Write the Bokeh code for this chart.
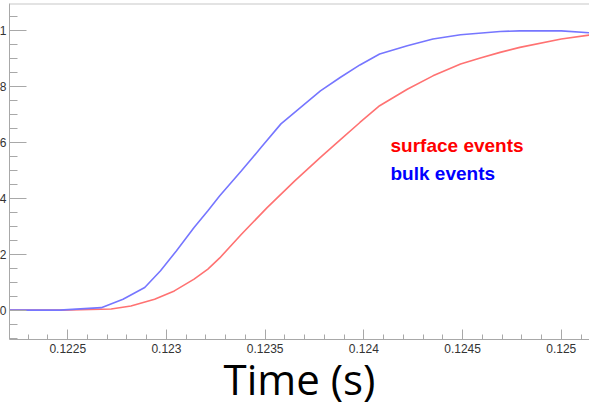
from bokeh.plotting import figure
from bokeh.models import (Range1d, SingleIntervalTicker, CustomJSTickFormatter,
                          Label, Span)
from bokeh.embed import file_html
from bokeh.resources import INLINE

# ---- data ----
time_bulk = [0.12220, 0.12246, 0.12267, 0.12278, 0.12289, 0.12297, 0.12305,
             0.12314, 0.12321, 0.12327, 0.12338, 0.12348, 0.12358, 0.12368,
             0.12378, 0.12388, 0.12398, 0.12408, 0.12422, 0.12435, 0.12449,
             0.12469, 0.12479, 0.12500, 0.125143]
bulk = [0.0, 0.0, 0.009, 0.039, 0.081, 0.141, 0.212, 0.296, 0.356, 0.410,
        0.499, 0.583, 0.667, 0.726, 0.785, 0.833, 0.878, 0.917, 0.947, 0.971,
        0.986, 0.998, 1.0, 1.0, 0.993]

time_surface = [0.12220, 0.12246, 0.12272, 0.12282, 0.12294, 0.12304, 0.12314,
                0.12321, 0.12327, 0.12338, 0.12351, 0.12365, 0.12378, 0.12388,
                0.12398, 0.12408, 0.12422, 0.12435, 0.12449, 0.12459, 0.12469,
                0.12479, 0.12500, 0.125143]
surface = [0.0, 0.0, 0.004, 0.015, 0.039, 0.069, 0.111, 0.147, 0.187, 0.272,
           0.367, 0.463, 0.547, 0.610, 0.672, 0.732, 0.791, 0.839, 0.881,
           0.903, 0.923, 0.941, 0.971, 0.985]

legend_labels = ["surface events", "bulk events"]
x_title = "Time (s)"

p = figure(frame_width=580, frame_height=336,
           x_range=Range1d(0.122205, 0.125143), y_range=Range1d(-0.105, 1.098),
           output_backend="svg", toolbar_location=None,
           min_border_left=0, min_border_right=0, min_border_top=0,
           min_border_bottom=0,
           margin=(3, 0, 0, -14))
p.background_fill_color = "white"
p.border_fill_color = "white"
p.outline_line_color = None
p.xgrid.visible = False
p.ygrid.visible = False

# frame top line
p.add_layout(Span(location=1.098, dimension="width", line_color="#c8c8c8",
                  line_width=2))

p.line(time_surface, surface, line_color="#ff7272", line_width=1.6)
p.line(time_bulk, bulk, line_color="#7676ff", line_width=1.6)

# x axis
xa = p.xaxis[0]
xa.ticker = SingleIntervalTicker(interval=0.0005, num_minor_ticks=5)
xa.formatter = CustomJSTickFormatter(code="return (Math.round(tick*1e4)/1e4).toString();")
xa.major_tick_in = 10
xa.major_tick_out = 0
xa.minor_tick_in = 5
xa.minor_tick_out = 0
xa.axis_line_color = "#a8a8a8"
xa.major_tick_line_color = "#a8a8a8"
xa.minor_tick_line_color = "#a8a8a8"
xa.major_label_text_font = "Liberation Sans"
xa.major_label_text_font_size = "12px"
xa.major_label_text_color = "#333333"
xa.major_label_standoff = 4
xa.axis_label = x_title
xa.axis_label_text_font = "Open Sans"
xa.axis_label_text_font_size = "42px"
xa.axis_label_text_font_style = "normal"
xa.axis_label_text_color = "black"
xa.axis_label_standoff = -6

# y axis
ya = p.yaxis[0]
ya.ticker = SingleIntervalTicker(interval=0.2, num_minor_ticks=4)
ya.formatter = CustomJSTickFormatter(code="return (Math.round(tick*10)/10).toString();")
ya.major_tick_in = 17
ya.major_tick_out = 0
ya.minor_tick_in = 8
ya.minor_tick_out = 0
ya.axis_line_color = "#a8a8a8"
ya.major_tick_line_color = "#a8a8a8"
ya.minor_tick_line_color = "#a8a8a8"
ya.major_label_text_font = "Liberation Sans"
ya.major_label_text_font_size = "12px"
ya.major_label_text_color = "#333333"
ya.major_label_standoff = 3

# legend text (coloured, no symbols)
p.add_layout(Label(x=0.124135, y=0.59, text=legend_labels[0],
                   text_color="#ff0000", text_font="Liberation Sans",
                   text_font_style="bold", text_font_size="19px",
                   text_baseline="alphabetic"))
p.add_layout(Label(x=0.124135, y=0.49, text=legend_labels[1],
                   text_color="#0000ff", text_font="Liberation Sans",
                   text_font_style="bold", text_font_size="19px",
                   text_baseline="alphabetic"))

open("out.html", "w").write(file_html(p, INLINE))
